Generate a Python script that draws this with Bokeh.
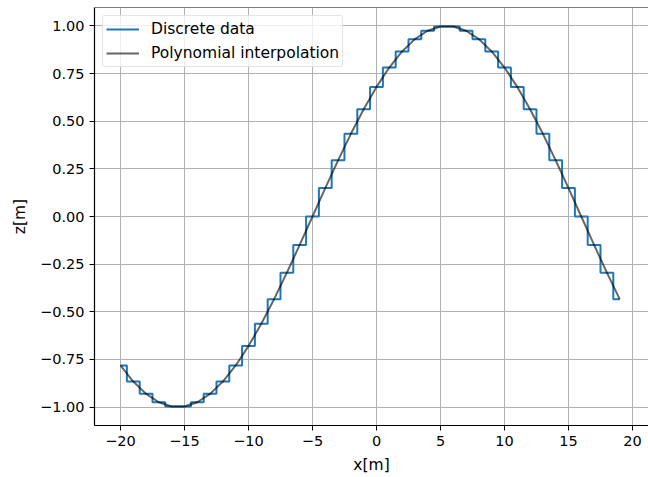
from bokeh.plotting import figure
from bokeh.models import FixedTicker, Range1d, Legend, LegendItem, Span
from bokeh.embed import file_html
from bokeh.resources import INLINE

x_vals = [-20, -19, -18, -17, -16, -15, -14, -13, -12, -11,
          -10, -9, -8, -7, -6, -5, -4, -3, -2, -1,
          0, 1, 2, 3, 4, 5, 6, 7, 8, 9,
          10, 11, 12, 13, 14, 15, 16, 17, 18, 19]
z_vals = [-0.7818, -0.8660, -0.9309, -0.9749, -0.9972, -0.9972, -0.9749, -0.9309, -0.8660, -0.7818,
          -0.6802, -0.5633, -0.4339, -0.2948, -0.1490, 0.0, 0.1490, 0.2948, 0.4339, 0.5633,
          0.6802, 0.7818, 0.8660, 0.9309, 0.9749, 0.9972, 0.9972, 0.9749, 0.9309, 0.8660,
          0.7818, 0.6802, 0.5633, 0.4339, 0.2948, 0.1490, 0.0, -0.1490, -0.2948, -0.4339]
x_ticks = [-20, -15, -10, -5, 0, 5, 10, 15, 20]
y_ticks = [-1.0, -0.75, -0.5, -0.25, 0.0, 0.25, 0.5, 0.75, 1.0]

FONT = "DejaVu Sans"
Y_TOP = 1.0969


def mpl_label(v, fmt):
    s = fmt.format(v)
    return s.replace("-", "\u2212")


p = figure(width=648, height=477, output_backend="svg", toolbar_location=None,
           x_range=Range1d(-22.03, 21.25), y_range=Range1d(-1.0969, Y_TOP),
           min_border_left=94, min_border_top=7, min_border_right=0, min_border_bottom=52)
p.outline_line_color = None
p.background_fill_color = "white"
p.border_fill_color = "white"

r_step = p.step(x_vals, z_vals, mode="center", line_color="#1f77b4", line_width=2)
r_line = p.line(x_vals, z_vals, line_color="black", line_alpha=0.6, line_width=2)

p.add_layout(Span(location=Y_TOP, dimension="width", line_color="black", line_width=1.2))

for ax in (p.xaxis[0], p.yaxis[0]):
    ax.axis_line_color = "black"
    ax.axis_line_width = 1.2
    ax.major_tick_line_color = "black"
    ax.major_tick_out = 5
    ax.major_tick_in = 0
    ax.minor_tick_line_color = None
    ax.major_label_text_font = FONT
    ax.major_label_text_font_size = "14.5px"
    ax.major_label_text_color = "black"
    ax.axis_label_text_font = FONT
    ax.axis_label_text_font_size = "15.5px"
    ax.axis_label_text_font_style = "normal"
    ax.axis_label_text_color = "black"

p.xaxis.ticker = FixedTicker(ticks=x_ticks)
p.yaxis.ticker = FixedTicker(ticks=y_ticks)
p.xaxis.major_label_overrides = {t: mpl_label(t, "{:d}") for t in x_ticks}
p.yaxis.major_label_overrides = {t: mpl_label(t, "{:.2f}") for t in y_ticks}
p.xaxis.axis_label = "x[m]"
p.yaxis.axis_label = "z[m]"
p.xaxis.axis_label_standoff = 7
p.yaxis.axis_label_standoff = 8

p.grid.grid_line_color = "#b0b0b0"
p.grid.grid_line_width = 1

legend = Legend(items=[LegendItem(label="Discrete data", renderers=[r_step]),
                       LegendItem(label="Polynomial interpolation", renderers=[r_line])],
                location="top_left")
legend.margin = 8
legend.padding = 3
legend.spacing = 4
legend.glyph_width = 33
legend.glyph_height = 20
legend.label_standoff = 12
legend.label_text_font = FONT
legend.label_text_font_size = "15.5px"
legend.label_text_color = "black"
legend.border_line_color = "#cccccc"
legend.border_line_width = 1
legend.background_fill_alpha = 0.8
legend.border_radius = 3
p.add_layout(legend)

open("out.html", "w").write(file_html(p, INLINE))
